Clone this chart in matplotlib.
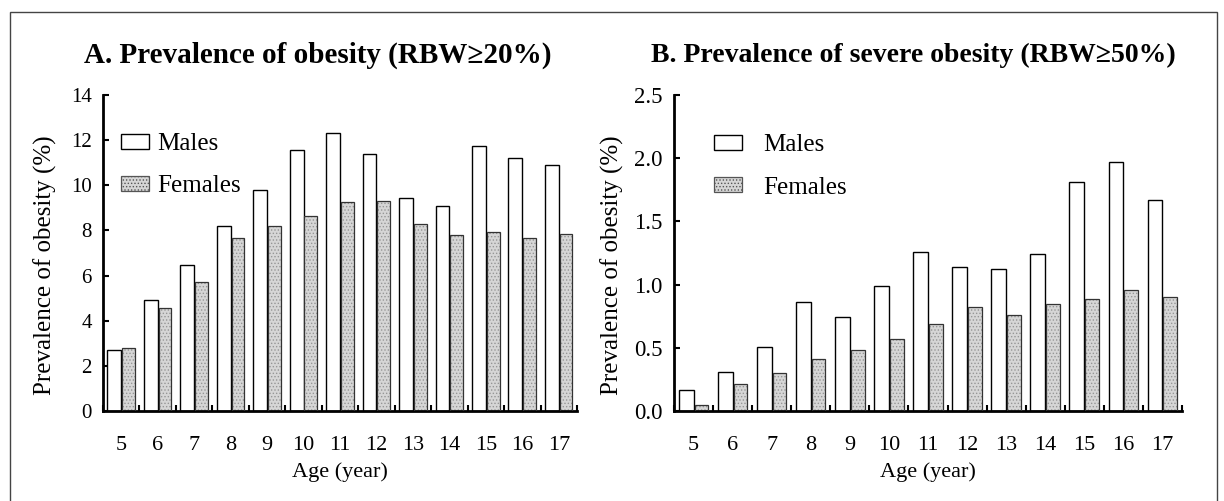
import numpy as np
import matplotlib.pyplot as plt
from matplotlib.patches import Patch, Rectangle
from matplotlib.ticker import FormatStrFormatter, MultipleLocator

plt.rcParams['font.family'] = ['Liberation Serif', 'DejaVu Serif']
plt.rcParams['hatch.linewidth'] = 0.6

ages = [5, 6, 7, 8, 9, 10, 11, 12, 13, 14, 15, 16, 17]

# prevalence of obesity, RBW >= 20 %
obese_males = [2.7, 4.9, 6.45, 8.2, 9.8, 11.55, 12.3, 11.4, 9.45, 9.1, 11.75, 11.2, 10.9]
obese_females = [2.8, 4.55, 5.7, 7.65, 8.2, 8.65, 9.25, 9.3, 8.3, 7.8, 7.95, 7.65, 7.85]

# prevalence of severe obesity, RBW >= 50 %
severe_males = [0.17, 0.31, 0.51, 0.86, 0.74, 0.99, 1.26, 1.14, 1.12, 1.24, 1.81, 1.97, 1.67]
severe_females = [0.05, 0.21, 0.30, 0.41, 0.48, 0.57, 0.69, 0.82, 0.76, 0.85, 0.89, 0.96, 0.90]

W, H = 1224, 501
fig = plt.figure(figsize=(W / 100, H / 100), dpi=100)

def fx(px):
  return px / W

def fy(py):
  return 1 - py / H

# thin frame round the whole figure
fig.patches.append(Rectangle((fx(10), fy(520)), fx(1217) - fx(10), fy(12) - fy(520),
                             transform=fig.transFigure, fill=False, ec='#444444', lw=1.0))

FEM_FACE = '#d6d6d6'
FEM_DOTS = '#969696'

def make_panel(ax, males, females, ymax, ystep, yfmt, ytick_size, legend_at, textpad):
  x = np.arange(len(ages))
  ax.bar(x - 0.19, males, width=0.38, color='white', edgecolor='black', lw=1.0, zorder=2)
  # dotted grey fill first, then the black outline on top
  ax.bar(x + 0.2, females, width=0.35, color=FEM_FACE, edgecolor=FEM_DOTS, lw=0, hatch='.....', zorder=2)
  ax.bar(x + 0.2, females, width=0.35, fill=False, edgecolor='#333333', lw=0.9, zorder=3)

  ax.set_xlim(-0.5, len(ages) - 0.5)
  ax.set_ylim(0, ymax)
  ax.set_xticks(x)
  ax.set_xticklabels([str(a) for a in ages])
  ax.set_xticks(np.arange(len(ages) + 1) - 0.5, minor=True)
  ax.yaxis.set_major_locator(MultipleLocator(ystep))
  ax.yaxis.set_major_formatter(FormatStrFormatter(yfmt))

  for s in ('top', 'right'):
    ax.spines[s].set_visible(False)
  for s in ('left', 'bottom'):
    ax.spines[s].set_linewidth(2.0)
  ax.tick_params(axis='x', which='major', length=0, labelsize=16, pad=18)
  ax.tick_params(axis='x', which='minor', direction='in', length=4, width=1.5)
  ax.tick_params(axis='y', direction='in', length=4, width=1.5, labelsize=ytick_size, pad=8)
  ax.set_xlabel('Age (year)', fontsize=16, labelpad=5)

  handles = [Patch(facecolor='white', edgecolor='black', lw=1.0),
             Patch(facecolor=FEM_FACE, edgecolor='#555555', lw=0.9, hatch='.....')]
  ax.legend(handles, ['Males', 'Females'], loc='upper left', frameon=False,
            bbox_to_anchor=(fx(legend_at[0]), fy(legend_at[1])), bbox_transform=fig.transFigure,
            fontsize=18, handlelength=1.12, handleheight=0.56, labelspacing=0.82,
            handletextpad=textpad, borderpad=0, borderaxespad=0)

axA = fig.add_axes([fx(103), fy(411), fx(577) - fx(103), fy(95) - fy(411)])
axB = fig.add_axes([fx(674), fy(411), fx(1182) - fx(674), fy(95) - fy(411)])

make_panel(axA, obese_males, obese_females, 14, 2, '%d', 15, (121, 133), 0.32)
make_panel(axB, severe_males, severe_females, 2.5, 0.5, '%.1f', 16.5, (714, 134), 0.84)

fig.text(fx(318), fy(55), 'A. Prevalence of obesity (RBW\u226520%)', ha='center', va='center',
         fontsize=21, fontweight='bold')
fig.text(fx(913), fy(55), 'B. Prevalence of severe obesity (RBW\u226550%)', ha='center', va='center',
         fontsize=20, fontweight='bold')

fig.text(fx(45), fy(265), 'Prevalence of obesity (%)', rotation=90, ha='center', va='center', fontsize=18)
fig.text(fx(612), fy(265), 'Prevalence of obesity (%)', rotation=90, ha='center', va='center', fontsize=18)

fig.savefig('out.png', dpi=100)
